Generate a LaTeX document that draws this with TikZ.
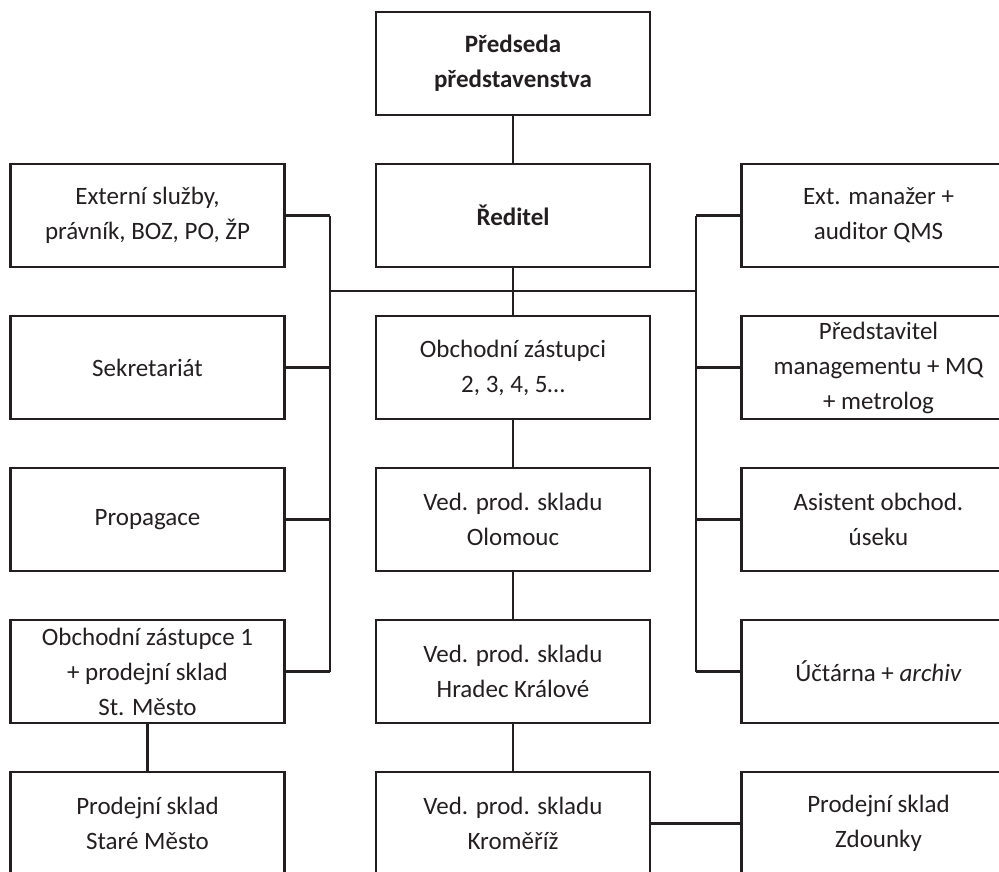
\documentclass[tikz,border=0pt]{standalone}
\usepackage{fontspec}
\setmainfont{Carlito}
\usepackage{xcolor}
\usetikzlibrary{positioning}
\definecolor{inkline}{HTML}{231F20}

\begin{document}
\begin{tikzpicture}[
		x=1pt, y=-1pt,
		node distance=49pt and 91.5pt,
		box/.style={
			draw=inkline,
			line width=2.8pt,
			outer sep=0pt,
			inner sep=0pt,
			align=center,
			minimum width=274pt,
			minimum height=103pt,
			text=inkline,
			font=\fontsize{25}{35}\selectfont
		},
		boldbox/.style={
			box,
			font=\fontsize{25}{35}\selectfont\bfseries
		},
		link/.style={draw=inkline, line width=2.6pt}
		]
		\useasboundingbox (0,0) rectangle (999,871);
		
		% Top of the chart
		\node[boldbox] (predseda) at (513,63.5) {
			Předseda\\
			představenstva
		};
		
		\node[boldbox, below=of predseda] (reditel) {Ředitel};
		
		% Left column
		\node[box, left=of reditel] (externi) {
			Externí služby,\\
			právník, BOZ, PO, ŽP
		};
		\node[box, below=of externi] (sekretariat) {Sekretariát};
		\node[box, below=of sekretariat] (propagace) {Propagace};
		\node[box, below=of propagace] (zastupce) {
			Obchodní zástupce 1\\
			+ prodejní sklad\\
			St. Město
		};
		\node[box, below=of zastupce] (starem) {
			Prodejní sklad\\
			Staré Město
		};
		
		% Middle column
		\node[box, below=of reditel] (zastupci) {
			Obchodní zástupci\\
			2, 3, 4, 5…
		};
		\node[box, below=of zastupci] (olomouc) {
			Ved. prod. skladu\\
			Olomouc
		};
		\node[box, below=of olomouc] (hradec) {
			Ved. prod. skladu\\
			Hradec Králové
		};
		\node[box, below=of hradec] (kromeriz) {
			Ved. prod. skladu\\
			Kroměříž
		};
		
		% Right column
		\node[box, right=of reditel] (manazer) {
			Ext. manažer +\\
			auditor QMS
		};
		\node[box, below=of manazer] (predstavitel) {
			Představitel\\
			managementu + MQ\\
			+ metrolog
		};
		\node[box, below=of predstavitel] (asistent) {
			Asistent obchod.\\
			úseku
		};
		\node[box, below=of asistent] (uctarna) {Účtárna + \textit{archiv}};
		\node[box, below=of uctarna] (zdounky) {
			Prodejní sklad\\
			Zdounky
		};
		
		% Bus lines
		\coordinate (trunkL) at (330,291);
		\coordinate (trunkR) at (696,291);
		
		\draw[link] (trunkL) -- (trunkR);
		\draw[link] (externi.east -| trunkL) -- (zastupce.east -| trunkL);
		\draw[link] (manazer.west -| trunkR) -- (uctarna.west -| trunkR);
		\foreach \n in {externi,sekretariat,propagace,zastupce}
			\draw[link] (\n.east) -- (\n.east -| trunkL);
		\foreach \n in {manazer,predstavitel,asistent,uctarna}
			\draw[link] (\n.west) -- (\n.west -| trunkR);
		
		% Lines
		\draw[link] (predseda) -- (reditel);
		\draw[link] (reditel) -- (zastupci);
		\draw[link] (zastupci) -- (olomouc);
		\draw[link] (olomouc) -- (hradec);
		\draw[link] (hradec) -- (kromeriz);
		\draw[link] (kromeriz) -- (zdounky);
		\draw[link] (zastupce) -- (starem);
		
	\end{tikzpicture}
\end{document}
